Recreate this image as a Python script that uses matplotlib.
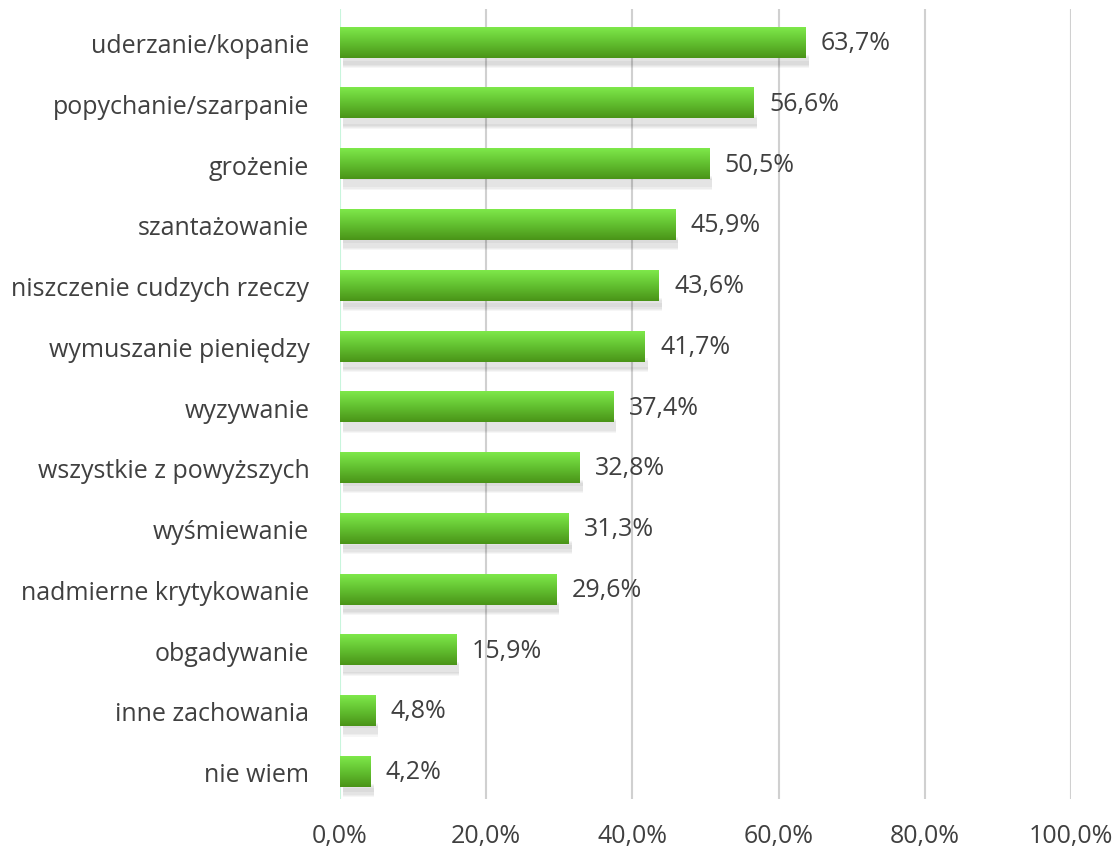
import matplotlib
matplotlib.use("Agg")
import matplotlib.pyplot as plt
import numpy as np
from matplotlib.colors import LinearSegmentedColormap
from matplotlib.patches import Rectangle

categories = ["uderzanie/kopanie", "popychanie/szarpanie", "grożenie", "szantażowanie",
              "niszczenie cudzych rzeczy", "wymuszanie pieniędzy", "wyzywanie",
              "wszystkie z powyższych", "wyśmiewanie", "nadmierne krytykowanie",
              "obgadywanie", "inne zachowania", "nie wiem"]
values = [63.7, 56.6, 50.5, 45.9, 43.6, 41.7, 37.4, 32.8, 31.3, 29.6, 15.9, 4.8, 4.2]
xticks = [0, 20, 40, 60, 80, 100]

plt.rcParams['font.family'] = ['Open Sans', 'DejaVu Sans']
FS = 18

fig = plt.figure(figsize=(11.18, 8.54), dpi=100)
ax = fig.add_axes([0.304, 0.0632, 0.654, 0.925])

n = len(categories)
ypos = np.arange(n)[::-1]
h = 0.5
cmap = LinearSegmentedColormap.from_list("g", ["#4a9418", "#62c030", "#7ee84a"])
grad = np.linspace(0, 1, 64).reshape(-1, 1)

for y, v in zip(ypos, values):
    # shadow
    for k in range(10):
        off = 0.01 + k * 0.018
        ax.add_patch(Rectangle((0.4, y - h / 2 - off), v, 0.06, facecolor="#000000",
                               alpha=0.035, edgecolor="none", zorder=2))
    ax.imshow(grad, cmap=cmap, aspect="auto", origin="lower",
              extent=(0, v, y - h / 2, y + h / 2), zorder=3)
    ax.text(v + 2.1, y, f"{v:.1f}%".replace(".", ","), va="center", ha="left",
            fontsize=FS, color="#404040", zorder=4)

ax.set_xlim(0, 100)
ax.set_ylim(-0.45, 12.55)
ax.set_yticks(ypos)
ax.set_yticklabels(categories, fontsize=FS, color="#404040")
ax.set_xticks(xticks)
ax.set_xticklabels([f"{t:.1f}%".replace(".", ",") for t in xticks], fontsize=FS, color="#404040")
ax.tick_params(axis="both", length=0)
ax.tick_params(axis="y", pad=22)
ax.tick_params(axis="x", pad=17)
for x in xticks[1:]:
    ax.axvline(x, color="#d0d0d0", lw=1.5, zorder=1)
ax.axvline(0, color="#c8f5dc", lw=1.5, zorder=1)
for s in ax.spines.values():
    s.set_visible(False)

fig.savefig("out.png", dpi=100)
